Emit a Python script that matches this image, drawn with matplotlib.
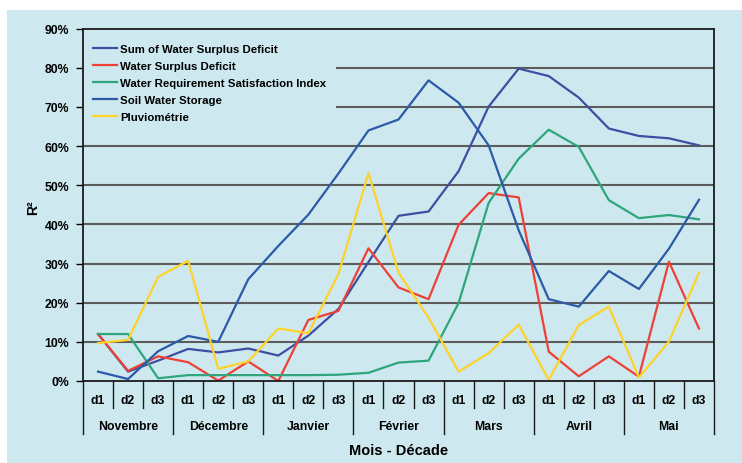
import matplotlib.pyplot as plt
from matplotlib.patches import Rectangle
from matplotlib.ticker import PercentFormatter
import matplotlib.transforms as mtransforms

plt.rcParams['font.family'] = ['Liberation Sans', 'DejaVu Sans']

months = ['Novembre', 'Décembre', 'Janvier', 'Février', 'Mars', 'Avril', 'Mai']
decades = ['d1', 'd2', 'd3']

# R² per decade, Nov d1 .. Mai d3
sum_surplus_deficit = [12.0, 2.4, 5.2, 8.2, 7.3, 8.3, 6.5, 11.6, 18.4, 30.4, 42.2, 43.3,
                       53.6, 70.1, 79.8, 77.9, 72.4, 64.5, 62.6, 62.0, 60.2]
surplus_deficit = [12.0, 2.6, 6.3, 4.8, 0.1, 5.0, 0.0, 15.6, 17.9, 33.9, 23.9, 20.9,
                   39.9, 48.0, 46.9, 7.5, 1.2, 6.3, 1.1, 30.5, 13.4]
wrsi = [12.0, 12.0, 0.7, 1.5, 1.5, 1.5, 1.5, 1.5, 1.6, 2.1, 4.7, 5.2,
        19.9, 45.5, 56.8, 64.2, 59.8, 46.2, 41.6, 42.4, 41.3]
soil_storage = [2.4, 0.5, 7.6, 11.5, 10.0, 26.0, 34.5, 42.5, 53.0, 64.0, 66.8, 76.8,
                71.1, 60.2, 38.5, 20.9, 19.0, 28.1, 23.5, 33.8, 46.3]
pluvio = [9.7, 10.5, 26.6, 30.7, 3.1, 5.0, 13.4, 12.2, 27.3, 53.1, 27.7, 16.2,
          2.4, 7.1, 14.4, 0.3, 14.3, 19.0, 0.9, 10.1, 27.6]

series = [
    ('Sum of Water Surplus Deficit', sum_surplus_deficit, '#3e4fa1'),
    ('Water Surplus Deficit', surplus_deficit, '#ee4035'),
    ('Water Requirement Satisfaction Index', wrsi, '#2fa57b'),
    ('Soil Water Storage', soil_storage, '#2b5aa9'),
    ('Pluviométrie', pluvio, '#ffd22a'),
]

bg = '#cde9ef'
fig = plt.figure(figsize=(7.42, 4.64), dpi=100, facecolor='white')
panel = Rectangle((7 / 742, 0), 1, (464 - 11) / 464, transform=fig.transFigure,
                  facecolor=bg, edgecolor='none', zorder=-10)
fig.add_artist(panel)

ax = fig.add_axes([83 / 742, 1 - 382 / 464, (714 - 83) / 742, (382 - 29.7) / 464])
ax.set_facecolor(bg)

n = len(months) * len(decades)
x = [i + 0.5 for i in range(n)]
for label, vals, color in series:
    ax.plot(x, [v / 100 for v in vals], color=color, lw=1.6, label=label, zorder=3)

ax.set_xlim(0, n)
ax.set_ylim(0, 0.9)
ax.set_yticks([i / 10 for i in range(10)])
ax.yaxis.set_major_formatter(PercentFormatter(1.0, decimals=0))
ax.tick_params(axis='y', direction='out', length=5, width=1, pad=5, labelsize=8.8)
for t in ax.get_yticklabels():
    t.set_fontweight('bold')
ax.set_xticks([])

for v in range(1, 9):
    ax.axhline(v / 10, color='#5c5c5c', lw=1.5, zorder=1)

for s in ax.spines.values():
    s.set_color('#1a1a1a')
    s.set_linewidth(1.3)
    s.set_zorder(6)

# two-level category axis
trans = mtransforms.blended_transform_factory(ax.transData, ax.transAxes)
for i in range(n + 1):
    bottom = -0.1504 if i % 3 == 0 else -0.0766
    ax.plot([i, i], [0, bottom], transform=trans, color='#1a1a1a', lw=1, clip_on=False)
for i in range(n):
    ax.text(i + 0.5, -0.053, decades[i % 3], transform=trans, ha='center', va='center',
            fontsize=8.8, fontweight='bold')
for m, name in enumerate(months):
    ax.text(m * 3 + 1.5, -0.127, name, transform=trans, ha='center', va='center',
            fontsize=8.8, fontweight='bold')
ax.text(0.5, -0.195, 'Mois - Décade', transform=ax.transAxes, ha='center', va='center',
        fontsize=10.5, fontweight='bold')

fig.text(33 / 742, 1 - 208 / 464, 'R²', rotation=90, ha='center', va='center',
         fontsize=10, fontweight='bold')

leg = ax.legend(loc='upper left', bbox_to_anchor=(0.0, 0.985), borderaxespad=0,
                frameon=True, facecolor=bg, edgecolor='none', framealpha=1,
                prop={'size': 8.2, 'weight': 'bold'}, handlelength=2.1,
                handletextpad=0.3, labelspacing=0.62, borderpad=0.85)
leg.set_zorder(5)

fig.savefig('out.png', dpi=100, facecolor='white')
